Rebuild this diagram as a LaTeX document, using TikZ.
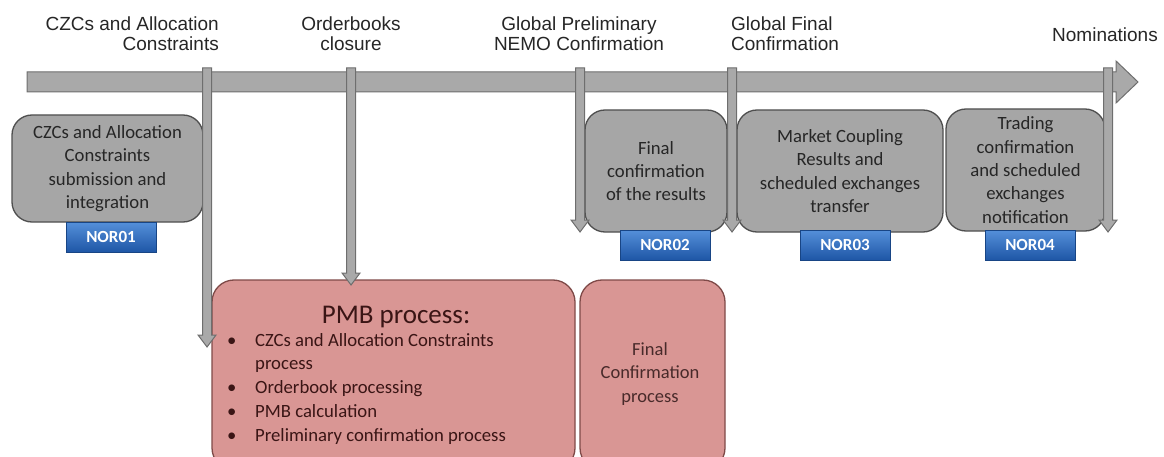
\documentclass[tikz,border=0pt]{standalone}
\usepackage{fontspec}
\setmainfont{Carlito}
\newfontfamily\arialfont{Liberation Sans}
\definecolor{boxgray}{HTML}{A6A6A6}
\definecolor{boxedge}{HTML}{4F4F4F}
\definecolor{barfill}{HTML}{A9A9A9}
\definecolor{baredge}{HTML}{6E6E6E}
\definecolor{pinkfill}{HTML}{D99694}
\definecolor{pinkedge}{HTML}{7F4A48}
\definecolor{pinktext}{HTML}{3A1515}
\definecolor{bluetop}{HTML}{5590DA}
\definecolor{bluebot}{HTML}{1E56A6}
\definecolor{textdark}{HTML}{262626}
\newcommand{\vArrow}[3]{%
  \filldraw[vshaft] (#1-4.5,#2) -- (#1+4.5,#2) -- (#1+4.5,#3-12) -- (#1+9,#3-12)
    -- (#1,#3) -- (#1-9,#3-12) -- (#1-4.5,#3-12) -- cycle;}
\begin{document}
\begin{tikzpicture}[x=1pt,y=-1pt,
  toplabel/.style={font=\arialfont\fontsize{19}{20}\selectfont, inner sep=0pt, text=textdark},
  graybox/.style={draw=boxedge, fill=boxgray, line width=1.3pt, rounded corners=20pt,
    align=center, font=\fontsize{18.7}{23.3}\selectfont, inner sep=0pt, text=textdark},
  pinkbox/.style={draw=pinkedge, fill=pinkfill, line width=1.3pt, rounded corners=22pt, inner sep=0pt},
  norbox/.style={top color=bluetop, bottom color=bluebot, draw=bluebot!80!black, line width=0.4pt,
    minimum width=90pt, minimum height=30pt, inner sep=0pt, text=white,
    font=\bfseries\fontsize{17}{20}\selectfont},
  vshaft/.style={fill=barfill, draw=baredge, line width=1pt, line join=miter}
]
\useasboundingbox (0,0) rectangle (1164,457);
\clip (0,0) rectangle (1164,457);

% top labels
\node[toplabel, align=right, anchor=north east] (l1) at (219,17) {CZCs and Allocation\\Constraints};
\node[toplabel, align=center, anchor=north] (l2) at (351,17) {Orderbooks\\closure};
\node[toplabel, align=center, anchor=north] (l3) at (579,17) {Global Preliminary\\NEMO Confirmation};
\node[toplabel, align=left, anchor=north west] (l4) at (731,17) {Global Final\\Confirmation};
\node[toplabel, anchor=north east] (l5) at (1158,28) {Nominations};

% timeline
\filldraw[vshaft] (27,72) -- (1116,72) -- (1116,61) -- (1138,82) -- (1116,103) -- (1116,92) -- (27,92) -- cycle;

% gray boxes
\node[graybox, minimum width=191pt, minimum height=107pt] (b1) at (107.5,168.5)
  {CZCs and Allocation\\Constraints\\submission and\\integration};
\node[graybox, minimum width=142pt, minimum height=122pt] (b2) at (656,171)
  {Final\\confirmation\\of the results};
\node[graybox, minimum width=206pt, minimum height=122pt] (b3) at (840,171)
  {Market Coupling\\Results and\\scheduled exchanges\\transfer};
\node[graybox, minimum width=159pt, minimum height=122pt] (b4) at (1025.5,170)
  {Trading\\confirmation\\and scheduled\\exchanges\\notification};

% NOR labels
\node[norbox] (n1) at (111,237) {NOR01};
\node[norbox] (n2) at (665,245) {NOR02};
\node[norbox] (n3) at (845,245) {NOR03};
\node[norbox] (n4) at (1030,245) {NOR04};

% pink boxes
\node[pinkbox, minimum width=363pt, minimum height=190pt] (pmb) at (393.5,375) {};
\node[pinkbox, minimum width=145pt, minimum height=190pt] (fcp) at (652.5,375) {};
\node[font=\fontsize{27}{30}\selectfont, text=pinktext, inner sep=0pt, anchor=base] (pmbt) at (396,323) {PMB process:};
\node[font=\fontsize{18.7}{23.8}\selectfont, text=pinktext, inner sep=0pt, anchor=north west, align=left] (pmbl) at (227,333)
  {\makebox[28pt][l]{\textbullet}CZCs and Allocation Constraints\\
   \hspace*{28pt}process\\
   \makebox[28pt][l]{\textbullet}Orderbook processing\\
   \makebox[28pt][l]{\textbullet}PMB calculation\\
   \makebox[28pt][l]{\textbullet}Preliminary confirmation process};
\node[font=\fontsize{18.5}{23.3}\selectfont, text=pinktext!80!gray, inner sep=0pt, align=center] (fcpt) at (650,374)
  {Final\\Confirmation\\process};

% vertical arrows
\vArrow{207}{68}{347}
\vArrow{351}{68}{285}
\vArrow{580}{68}{232}
\vArrow{732}{68}{232}
\vArrow{1108}{68}{232}
\end{tikzpicture}
\end{document}
